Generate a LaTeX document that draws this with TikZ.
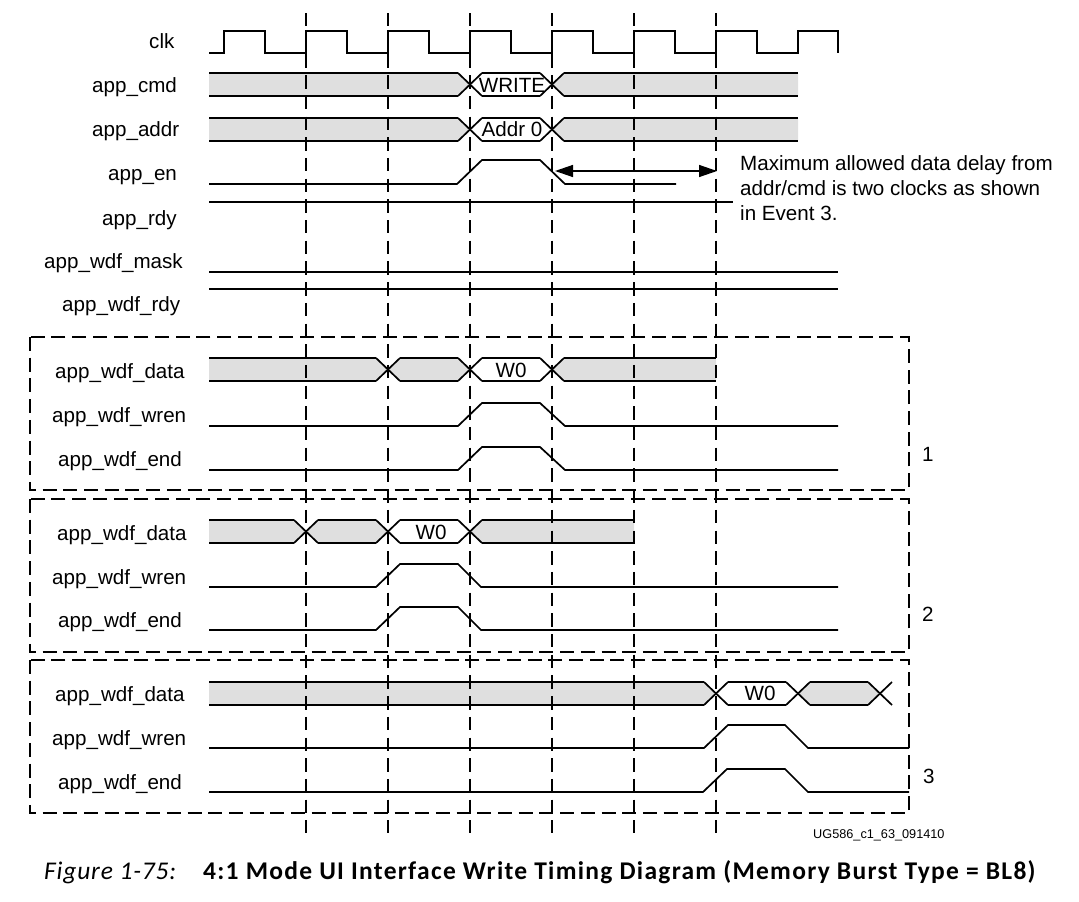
\documentclass[tikz,border=0pt]{standalone}
\usepackage{fontspec}
\setmainfont{Liberation Sans}
\newfontfamily\capnofont[LetterSpace=3.2]{Carlito}
\newfontfamily\captitlefont[LetterSpace=5.1]{Carlito}
\usetikzlibrary{arrows.meta}

\tikzset{
	wave/.style={line width=1.7pt, line join=miter},
	gridline/.style={line width=1.7pt, dash pattern=on 13.4pt off 7.3pt},
	eventbox/.style={line width=1.7pt, dash pattern=on 14pt off 6.7pt},
	siglabel/.style={anchor=base west, inner sep=0pt, font=\fontsize{20.6}{24}\selectfont},
	buslabel/.style={anchor=base, inner sep=0pt, font=\fontsize{20.6}{24}\selectfont},
	delayarrow/.style={line width=1.4pt, {Triangle[length=18pt,width=12pt]}-{Triangle[length=18pt,width=12pt]}},
}
\definecolor{busgray}{HTML}{DFDFDF}

\begin{document}
\begin{tikzpicture}[x=1pt,y=-1pt]

% page %{{{2

	\useasboundingbox (0,0) rectangle (1079,902);

% parameters %{{{2

	\def\slant{11.5}
	\def\bush{23}

% gray bus fill %{{{2

	\foreach \xl/\xr/\yt/\sl/\sr in {
		209/458/73/0/1, 564/798/73/1/0,
		209/458/118/0/1, 564/798/118/1/0,
		209/376/358/0/1, 400/458/358/1/1, 564/716/358/1/0,
		209/294/520/0/1, 318/376/520/1/1, 482/634/520/1/0,
		209/704/682/0/1, 810/868/682/1/1} {
		\fill[busgray] (\xl,\yt) -- (\xr,\yt) -- (\xr+\sr*\slant,\yt+\bush/2)
			-- (\xr,\yt+\bush) -- (\xl,\yt+\bush) -- (\xl-\sl*\slant,\yt+\bush/2) -- cycle;
	}

% clock grid %{{{2

	\foreach \x in {306,388,...,716} { \draw[gridline] (\x,13) -- (\x,833); }

% event boxes %{{{2

	\draw[eventbox] (30,337) rectangle (909,490);
	\draw[eventbox] (30,499) rectangle (909,652);
	\draw[eventbox] (30,660) rectangle (909,813);

% clk %{{{2

	\draw[wave] (209,53) -- (224,53) -- (224,31) -- (265,31)
		\foreach \x in {306,388,...,716} { -- (\x-41,53) -- (\x,53) -- (\x,31) -- (\x+41,31) }
		-- (757,53) -- (798,53) -- (798,31) -- (838,31) -- (838,53);

% bus edges %{{{2

	\foreach \xl/\xr/\yt in {
		209/458/73, 482/540/73, 564/798/73,
		209/458/118, 482/540/118, 564/798/118,
		209/376/358, 400/458/358, 482/540/358, 564/716/358,
		209/294/520, 318/376/520, 400/458/520, 482/634/520,
		209/704/682, 728/786/682, 810/868/682} {
		\draw[wave] (\xl,\yt) -- (\xr,\yt);
		\draw[wave] (\xl,\yt+\bush) -- (\xr,\yt+\bush);
	}

	\foreach \x/\yt in {
		470/73, 552/73,
		470/118, 552/118,
		388/358, 470/358, 552/358,
		306/520, 388/520, 470/520,
		716/682, 798/682, 880/682} {
		\draw[wave] (\x-12,\yt) -- (\x+12,\yt+\bush);
		\draw[wave] (\x-12,\yt+\bush) -- (\x+12,\yt);
	}

% level lines %{{{2

	\draw[wave] (209,202) -- (733,202);
	\draw[wave] (209,272) -- (838,272);
	\draw[wave] (209,289) -- (838,289);

% pulses %{{{2

	\foreach \xa/\xb/\xc/\xd/\xe/\ylow/\yhigh in {
		457/482/540/565/676/184/160,
		458/482/540/565/838/426/403,
		458/482/540/565/838/470/447,
		376/400/458/481/838/587/564,
		376/400/458/481/838/630/607,
		704/728/785/808/909/748/725,
		703/727/785/808/909/792/769} {
		\draw[wave] (209,\ylow) -- (\xa,\ylow) -- (\xb,\yhigh) -- (\xc,\yhigh)
			-- (\xd,\ylow) -- (\xe,\ylow);
	}

% delay arrow %{{{2

	\coordinate (delayL) at (555,171);
	\coordinate (delayR) at (717,171);
	\draw[delayarrow] (delayL) -- (delayR);

% signal labels %{{{2

	\node[siglabel] (clk) at (149,48) {clk};
	\node[siglabel] (cmd) at (92,92) {app\_cmd};
	\node[siglabel] (addr) at (92,136) {app\_addr};
	\node[siglabel] (en) at (108,180) {app\_en};
	\node[siglabel] (rdy) at (102,225) {app\_rdy};
	\node[siglabel] (mask) at (44,268) {app\_wdf\_mask};
	\node[siglabel] (wdfrdy) at (62,311) {app\_wdf\_rdy};

	\foreach \i/\xd/\yd/\yw/\ye in {1/55/378/422/466, 2/57/540/584/627, 3/55/701/745/789} {
		\node[siglabel] (data\i) at (\xd,\yd) {app\_wdf\_data};
		\node[siglabel] (wren\i) at (52,\yw) {app\_wdf\_wren};
		\node[siglabel] (end\i) at (58,\ye) {app\_wdf\_end};
	}

% bus labels %{{{2

	\node[buslabel] (write) at (512,92) {WRITE};
	\node[buslabel] (addr0) at (512,136) {Addr 0};
	\node[buslabel] (w0a) at (511,377) {W0};
	\node[buslabel] (w0b) at (431,539) {W0};
	\node[buslabel] (w0c) at (760,700) {W0};

% event numbers %{{{2

	\node[siglabel] (ev1) at (922,461) {1};
	\node[siglabel] (ev2) at (922,621) {2};
	\node[siglabel] (ev3) at (923,783) {3};

% note %{{{2

	\node[siglabel] (note1) at (740,170) {Maximum allowed data delay from};
	\node[siglabel] (note2) at (740,195) {addr/cmd is two clocks as shown};
	\node[siglabel] (note3) at (740,220) {in Event 3.};

% figure id and caption %{{{2

	\node[anchor=base west, inner sep=0pt, font=\fontsize{12.7}{15}\selectfont] (figid) at (813,838) {UG586\_c1\_63\_091410};
	\node[anchor=base west, inner sep=0pt, font=\capnofont\itshape\fontsize{25.5}{28}\selectfont] (figno) at (44,879) {Figure 1-75:};
	\node[anchor=base west, inner sep=0pt, font=\captitlefont\bfseries\fontsize{25.5}{28}\selectfont] (figtitle) at (203,879) {4:1 Mode UI Interface Write Timing Diagram (Memory Burst Type = BL8)};

% closing %{{{2

\end{tikzpicture}
\end{document}
